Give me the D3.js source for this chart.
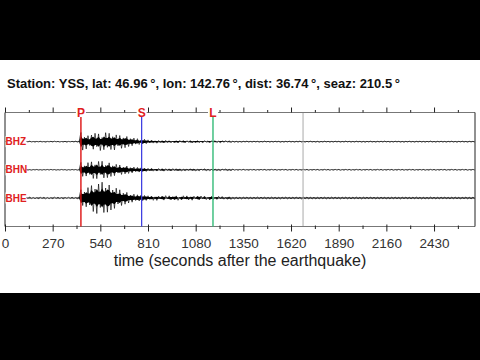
<!DOCTYPE html>
<html><head><meta charset="utf-8">
<script src="https://cdn.jsdelivr.net/npm/d3@7"></script>
<style>html,body{margin:0;padding:0;background:#000;}svg{display:block;}</style>
</head><body>
<svg id="c" width="480" height="360"></svg>
<script>
const titleText = "Station: YSS, lat: 46.96\u2009°, lon: 142.76\u2009°, dist: 36.74\u2009°, seaz: 210.5\u2009°";
const xTitle = "time (seconds after the earthquake)";
const channels = ["BHZ", "BHN", "BHE"];
const majorTicks = [0, 270, 540, 810, 1080, 1350, 1620, 1890, 2160, 2430];
const minorTicks = [135, 405, 675, 945, 1215, 1485, 1755, 2025, 2295, 2565];
const phases = ["P", "S", "L"];
const phaseTimes = [430, 774, 1178];
const markerTime = 1688;
const sampleStep = 10; // seconds between samples

// ground motion samples, every 10 s from t = 0 (arbitrary counts)
const bhz = [
 3,-2,4,-3,2,-4,3,-2,4,-3,
 2,-4,3,-2,5,-3,2,-4,3,-2,
 4,-3,2,-5,3,-2,4,-3,5,-2,
 3,-4,2,-3,4,-5,3,-2,4,-3,
 5,-4,3,92,-84,45,-72,60,-38,66,
 -75,84,-50,78,-88,42,-80,90,-56,84,
 -78,50,-82,68,-42,62,-66,38,-60,52,
 -48,30,-40,36,-24,30,-28,16,-22,24,
 -20,18,-12,15,-14,9,-15,12,-8,11,
 -12,13,-7,10,-12,6,-13,10,-11,12,
 -6,12,-11,9,-5,11,-12,7,-9,11,
 -10,6,-11,10,-5,8,-10,9,-4,10,
 -9,5,-10,9,-6,9,-4,8,-9,5,
 -5,4,-6,3,-5,4,-3,6,-4,3,
 -4,5,-3,4,-5,3,-4,6,-3,4,
 -5,3,-4,5,-3,4,-6,3,-5,4,
 -3,5,-4,3,-5,4,-3,6,-4,3,
 -5,4,-3,5,-4,3,-5,4,-6,3,
 -4,5,-3,4,-5,3,-4,5,-3,4,
 -5,3,-4,6,-3,4,-5,3,-4,5,
 -3,4,-5,3,-6,4,-3,5,-4,3,
 -5,4,-3,5,-4,6,-3,4,-5,3,
 -4,5,-3,4,-5,3,-6,4,-3,5,
 -4,3,-5,4,-3,5,-4,3,-5,4,
 -3,6,-4,3,-5,4,-3,5,-4,3,
 -5,4,-3,5,-4,3,-6,4,-3,5,
 -4,3,-5,4,-3,4,-5];
const bhn = [
 2,-3,4,-2,3,-4,2,-3,4,-2,
 3,-2,4,-3,2,-4,3,-2,4,-3,
 2,-4,3,-2,4,-3,5,-2,3,-4,
 2,-3,4,-2,3,-5,2,-3,4,-2,
 3,-4,2,74,-65,40,-62,72,-45,80,
 -86,50,-88,84,-46,86,-80,44,-78,70,
 -66,40,-58,55,-32,48,-46,28,-40,38,
 -36,22,-30,28,-18,24,-22,20,-18,17,
 -16,15,-9,16,-13,8,-12,13,-7,12,
 -13,11,-6,10,-11,12,-5,11,-9,10,
 -11,6,-10,8,-5,10,-8,9,-10,5,
 -9,8,-4,9,-8,7,-9,4,-7,8,
 -7,5,-8,7,-4,8,-7,5,-8,7,
 -4,3,-5,4,-3,5,-4,3,-5,4,
 -3,4,-5,3,-4,5,-3,4,-5,3,
 -4,5,-3,4,-5,3,-4,5,-3,4,
 -5,3,-4,5,-3,4,-5,3,-4,5,
 -3,4,-5,3,-4,5,-3,4,-5,3,
 -4,5,-3,4,-5,3,-4,5,-3,4,
 -5,3,-4,5,-3,4,-5,3,-4,5,
 -3,4,-5,3,-4,5,-3,4,-5,3,
 -4,5,-3,4,-5,3,-4,5,-3,4,
 -5,3,-4,5,-3,4,-5,3,-4,5,
 -3,4,-5,3,-4,5,-3,4,-5,3,
 -4,5,-3,4,-5,3,-4,5,-3,4,
 -5,3,-4,5,-3,4,-5,3,-4,5,
 -3,4,-5,3,-4,5,-3];
const bhe = [
 5,-7,4,-6,8,-5,7,-4,6,-8,
 5,-7,6,-4,8,-6,5,-7,4,-6,
 7,-5,6,-8,5,-7,4,-6,8,-5,
 7,-6,5,-8,6,-4,7,-5,8,-6,
 5,-7,6,82,-75,60,-88,104,-70,124,
 -135,90,-155,140,-95,158,-145,100,-142,130,
 -120,80,-104,98,-60,82,-75,48,-62,56,
 -50,30,-42,38,-25,32,-30,28,-26,25,
 -24,22,-14,20,-23,12,-24,19,-10,20,
 -21,23,-9,22,-20,14,-18,21,-23,9,
 -20,22,-10,21,-19,12,-22,18,-8,19,
 -18,20,-9,19,-16,8,-20,17,-15,9,
 -14,16,-7,15,-12,6,-13,12,-14,6,
 -9,8,-10,7,-9,8,-7,9,-8,7,
 -9,8,-7,9,-8,10,-7,8,-9,7,
 -8,9,-7,8,-10,7,-9,8,-7,9,
 -8,7,-9,8,-7,10,-8,7,-9,8,
 -7,9,-8,7,-9,8,-10,7,-8,9,
 -7,8,-9,7,-8,9,-7,10,-8,7,
 -9,8,-7,9,-8,7,-10,8,-7,9,
 -8,7,-9,8,-7,9,-8,10,-7,8,
 -9,7,-8,9,-7,8,-10,7,-9,8,
 -7,9,-8,7,-9,8,-7,10,-8,7,
 -9,8,-7,9,-8,7,-9,8,-10,7,
 -8,9,-7,8,-9,7,-8,9,-7,10,
 -8,7,-9,8,-7,9,-8,7,-10,8,
 -7,9,-8,7,-9,8,-7];
const traces = [bhz, bhn, bhe];

const svg = d3.select("#c");
const W = 480;
const FONT = "Liberation Sans, Arial, Helvetica, sans-serif";
svg.append("rect").attr("x", 0).attr("y", 60).attr("width", W).attr("height", 233).attr("fill", "#fff");

const x = d3.scaleLinear().domain([0, 2662]).range([5, 475]);
const yTop = 112.5, yBot = 226.5;
const yc = d3.scalePoint().domain(channels).range([141.7, 198]);
const amp = d3.scaleLinear().domain([-10, 10]).range([1, -1]);

svg.append("defs").append("clipPath").attr("id", "plotclip")
  .append("rect").attr("x", 5).attr("y", yTop).attr("width", 470).attr("height", yBot - yTop);

// title
svg.append("text").attr("x", 7).attr("y", 88).attr("font-family", FONT)
  .attr("font-size", 13).attr("font-weight", "bold").attr("fill", "#111").text(titleText);

// traces: a dense core (min of neighbouring peaks) plus the full zig-zag line
const gTr = svg.append("g").attr("clip-path", "url(#plotclip)");
traces.forEach((tr, k) => {
  const c = yc(channels[k]);
  const core = tr.map((v, i) => {
    const w = i + 1 < tr.length ? tr[i + 1] : v;
    return { t: i * sampleStep, a: 0.65 * Math.min(Math.abs(v), Math.abs(w)) };
  });
  gTr.append("path")
    .attr("d", d3.area().x(d => x(d.t)).y0(d => c + amp(-d.a)).y1(d => c + amp(d.a))(core))
    .attr("fill", "#000");
  gTr.append("path")
    .attr("d", d3.line().x((d, i) => x(i * sampleStep)).y(d => c + amp(d))(tr))
    .attr("fill", "none").attr("stroke", "#000").attr("stroke-width", 0.65);
});

// gray marker
svg.append("line").attr("x1", x(markerTime)).attr("x2", x(markerTime)).attr("y1", yTop).attr("y2", yBot)
  .attr("stroke", "#aaa").attr("stroke-width", 1);

// frame
const frame = svg.append("g").attr("stroke", "#777").attr("stroke-width", 1).attr("fill", "none");
frame.append("line").attr("x1", 5).attr("x2", 475).attr("y1", yTop).attr("y2", yTop);
frame.append("line").attr("x1", 5).attr("x2", 475).attr("y1", yBot).attr("y2", yBot);
frame.append("line").attr("x1", 5).attr("x2", 5).attr("y1", yTop).attr("y2", yBot).attr("stroke", "#222");
frame.append("line").attr("x1", 475).attr("x2", 475).attr("y1", yTop).attr("y2", yBot).attr("stroke", "#222");

// bottom axis
const axB = svg.append("g").attr("transform", `translate(0,${yBot})`)
  .call(d3.axisBottom(x).tickValues(majorTicks).tickSize(5).tickPadding(6.5).tickFormat(d3.format("d")));
axB.select(".domain").remove();
axB.selectAll(".tick line").attr("stroke", "#222").attr("y1", -2);
axB.selectAll(".tick text").attr("font-family", FONT).attr("font-size", 13.5).attr("fill", "#333");
const axBm = svg.append("g").attr("transform", `translate(0,${yBot})`)
  .call(d3.axisBottom(x).tickValues(minorTicks).tickSize(2.5).tickFormat(""));
axBm.select(".domain").remove();
axBm.selectAll(".tick line").attr("stroke", "#222").attr("y1", -1);

// top axis
const axT = svg.append("g").attr("transform", `translate(0,${yTop})`)
  .call(d3.axisTop(x).tickValues(majorTicks).tickSize(5).tickFormat(""));
axT.select(".domain").remove();
axT.selectAll(".tick line").attr("stroke", "#222");
const axTm = svg.append("g").attr("transform", `translate(0,${yTop})`)
  .call(d3.axisTop(x).tickValues(minorTicks).tickSize(2.5).tickFormat(""));
axTm.select(".domain").remove();
axTm.selectAll(".tick line").attr("stroke", "#222");

// x title
svg.append("text").attr("x", 240).attr("y", 266).attr("text-anchor", "middle")
  .attr("font-family", FONT).attr("font-size", 16).attr("fill", "#222").text(xTitle);

// phase lines
const phaseColors = ["#dd1111", "#3535e0", "#33bb77"];
phases.forEach((p, i) => {
  const px = x(phaseTimes[i]);
  svg.append("line").attr("x1", px).attr("x2", px).attr("y1", 117).attr("y2", yBot)
    .attr("stroke", phaseColors[i]).attr("stroke-width", i === 1 ? 1.2 : 1.4);
  svg.append("rect").attr("x", px - 5).attr("y", 107.5).attr("width", 10).attr("height", 9.5).attr("fill", "#fff");
  svg.append("text").attr("x", px).attr("y", 117).attr("text-anchor", "middle")
    .attr("font-family", FONT).attr("font-size", 12).attr("font-weight", "bold").attr("fill", "#e02020").text(p);
});

// channel labels
channels.forEach(ch => {
  const cy = yc(ch);
  svg.append("rect").attr("x", 5.5).attr("y", cy - 5.5).attr("width", 21).attr("height", 11).attr("fill", "#fff");
  svg.append("text").attr("x", 5.5).attr("y", cy + 3.6).attr("font-family", FONT)
    .attr("font-size", 10).attr("font-weight", "bold").attr("fill", "#e02020").text(ch);
});
</script>
</body></html>
